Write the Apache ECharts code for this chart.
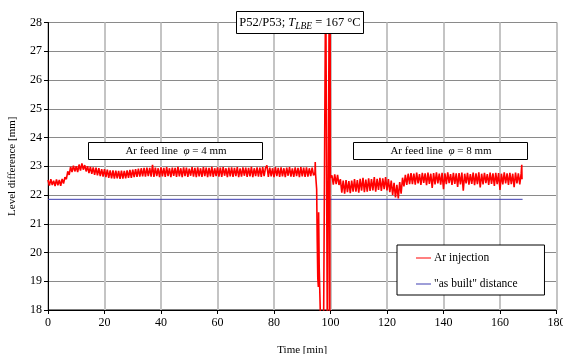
<!DOCTYPE html>
<html><head><meta charset="utf-8">
<script src="https://cdn.jsdelivr.net/npm/echarts@6/dist/echarts.min.js"></script>
<style>html,body{margin:0;padding:0;background:#fff}#c{width:563px;height:354px}</style>
</head><body><div id="c"></div>
<script>
// axis ticks
const xTicks = [0, 20, 40, 60, 80, 100, 120, 140, 160, 180];
const yTicks = [18, 19, 20, 21, 22, 23, 24, 25, 26, 27, 28];
// Ar injection, phase 1 (4 mm feed line): samples every 0.5 min from t = 0
const seg1Start = 0, seg1Step = 0.5;
const seg1Values = [
 22.52,22.33,22.55,22.35,22.5,22.31,22.54,22.34,22.52,22.32,22.56,
 22.4,22.62,22.55,22.82,22.7,
 22.98,
 22.8,23.02,22.82,23.0,22.8,23.06,22.85,23.1,22.88,23.04,22.82,23.0,
 22.76,22.98,22.74,22.96,22.7,22.95,22.68,22.93,22.66,22.9,22.64,22.9,22.62,22.88,22.6,22.86,
 22.58,22.86,22.57,22.85,22.58,22.84,22.56,22.85,22.57,22.84,22.58,22.86,22.6,22.87,22.6,22.88,
 22.62,22.9,22.63,22.92,22.64,22.93,22.65,22.94,22.64,22.95,22.66,22.94,
 22.64,23.05,22.63,22.95,22.66,22.93,22.62,22.96,22.65,22.94,
 22.63,22.97,22.66,22.93,22.62,22.95,22.67,22.94,22.63,22.98,
 22.65,22.93,22.62,22.96,22.66,22.95,22.63,22.92,22.67,22.97,
 22.64,22.94,22.62,22.96,22.65,22.93,22.63,22.97,22.66,22.95,
 22.62,22.94,22.65,22.98,22.63,22.93,22.66,22.96,22.64,22.95,
 22.63,22.97,22.67,22.93,22.62,22.95,22.65,22.96,22.63,22.94,
 22.66,22.97,22.62,22.93,22.64,22.96,22.67,22.95,22.63,22.94,
 22.65,22.98,22.62,22.93,22.66,22.96,22.64,22.95,22.63,22.97,
 22.66,22.94,23.03,22.63,22.95,22.65,22.93,22.62,22.97,22.66,
 22.94,22.63,22.96,22.65,22.93,22.62,22.95,22.67,22.97,22.64,
 22.93,22.63,22.96,22.66,22.94,22.62,22.97,22.65,22.95,22.63,
 22.96,22.64,22.93,22.66,22.95,22.68
];
// switch-over transient (time, level)
const transientTimes  = [94.5, 94.6, 94.7, 94.9, 95.1, 95.3, 95.5, 95.7, 95.8, 96.0, 96.2, 96.5, 97.5, 98.2, 98.3, 98.8, 98.9, 99.5, 99.6, 99.75, 99.85, 99.95];
const transientLevels = [22.78, 23.15, 22.75, 22.8, 22.2, 20.4, 19.1, 18.8, 21.4, 19.5, 18.7, 17.5, 16.5, 16.5, 30, 30, 16.5, 16.5, 30, 16.5, 30, 22.6];
// phase 2 (8 mm feed line): samples every 0.5 min from t = 100.5
const seg2Start = 100.5, seg2Step = 0.5;
const seg2Values = [
 22.68,22.36,22.72,22.38,22.7,22.35,
 22.55,22.08,22.5,22.05,22.52,22.1,22.48,22.06,22.5,22.12,
 22.55,22.12,22.52,22.08,22.56,22.15,22.6,22.1,22.54,22.12,22.58,22.14,22.55,22.16,22.62,22.12,22.56,22.18,22.6,22.14,22.58,22.2,22.62,22.16,
 22.55,22.1,22.5,22.0,22.42,21.92,22.35,21.88,22.45,22.05,
 22.6,22.3,22.7,22.35,22.74,22.38,
 22.76,22.38,22.74,22.36,22.78,22.4,22.73,22.35,22.77,22.42,
 22.75,22.34,22.78,22.39,22.74,22.25,22.76,22.37,22.79,22.4,
 22.74,22.36,22.77,22.2,22.75,22.38,22.79,22.41,22.73,22.35,
 22.77,22.39,22.75,22.28,22.76,22.37,22.78,22.15,22.74,22.4,
 22.77,22.36,22.73,22.39,22.78,22.34,22.75,22.38,22.79,22.26,
 22.74,22.37,22.77,22.41,22.73,22.35,22.78,22.39,22.75,22.32,
 22.77,22.38,22.76,22.18,22.74,22.37,22.79,22.4,22.75,22.35,
 22.77,22.38,22.74,22.27,22.78,22.4,22.75,22.37,22.76
];
const endTimes  = [167.7, 167.8];
const endLevels = [23.05, 22.55];
// "as built" distance
const builtTimes  = [0, 168];
const builtLevels = [21.85, 21.85];

const arData = [];
seg1Values.forEach((v, i) => arData.push([seg1Start + i * seg1Step, v]));
transientTimes.forEach((t, i) => arData.push([t, transientLevels[i]]));
seg2Values.forEach((v, i) => arData.push([seg2Start + i * seg2Step, v]));
endTimes.forEach((t, i) => arData.push([t, endLevels[i]]));
const builtData = builtTimes.map((t, i) => [t, builtLevels[i]]);

const FONT = 'Liberation Serif';

// title pieces laid out with measured widths
const mctx = document.createElement('canvas').getContext('2d');
function tw(txt, size, italic) { mctx.font = (italic ? 'italic ' : '') + size + 'px "' + FONT + '"'; return mctx.measureText(txt).width; }
const titleParts = [
  {t: 'P52/P53; ', size: 12.5, italic: false, cy: 22.5},
  {t: 'T', size: 12.5, italic: true, cy: 22.5},
  {t: 'LBE', size: 9.5, italic: true, cy: 26},
  {t: ' = 167 °C', size: 12.5, italic: false, cy: 22.5}
];
const titleW = titleParts.reduce((s, p) => s + tw(p.t, p.size, p.italic), 0);
let tx = 300 - titleW / 2;
const titleTexts = titleParts.map(p => {
  const el = {type: 'text', z: 101, x: tx, y: p.cy, style: {text: p.t, fontFamily: FONT, fontSize: p.size,
    fontStyle: p.italic ? 'italic' : 'normal', fill: '#000', align: 'left', verticalAlign: 'middle'}};
  tx += tw(p.t, p.size, p.italic);
  return el;
});

const chart = echarts.init(document.getElementById('c'), null, {renderer: 'canvas'});
chart.setOption({
  animation: false,
  backgroundColor: '#fff',
  textStyle: {fontFamily: FONT, color: '#000'},
  grid: {left: 48, right: 6.5, top: 22.5, bottom: 44, outerBoundsMode: 'none', containLabel: false,
         show: true, borderColor: '#000', borderWidth: 1, backgroundColor: 'transparent'},
  xAxis: {
    type: 'value', min: xTicks[0], max: xTicks[xTicks.length - 1], interval: 20,
    name: 'Time [min]', nameLocation: 'middle', nameGap: 35,
    nameTextStyle: {fontFamily: FONT, fontSize: 11, color: '#000'},
    axisLine: {lineStyle: {color: '#000', width: 1}},
    axisTick: {show: true, length: 4, lineStyle: {color: '#000'}},
    axisLabel: {fontFamily: FONT, fontSize: 12, color: '#000', margin: 7},
    splitLine: {show: true, lineStyle: {color: '#c4c4c4', width: 2}}
  },
  yAxis: {
    type: 'value', min: yTicks[0], max: yTicks[yTicks.length - 1], interval: 1,
    name: 'Level difference [mm]', nameLocation: 'middle', nameGap: 30,
    nameTextStyle: {fontFamily: FONT, fontSize: 11, color: '#000'},
    axisLine: {show: true, lineStyle: {color: '#000', width: 1}},
    axisTick: {show: true, length: 4, lineStyle: {color: '#000'}},
    axisLabel: {fontFamily: FONT, fontSize: 12, color: '#000', margin: 6},
    splitLine: {show: true, lineStyle: {color: '#8a8a8a', width: 1}}
  },
  legend: {
    orient: 'vertical', left: 397, top: 245,
    data: ['Ar injection', '"as built" distance'],
    backgroundColor: '#fff', borderColor: '#000', borderWidth: 1,
    padding: [5, 27, 3, 19], itemGap: 10, itemWidth: 15, itemHeight: 14,
    icon: 'path://M0,6.5 L15,6.5 L15,7.5 L0,7.5 Z',
    textStyle: {fontFamily: FONT, fontSize: 11.5, color: '#000', padding: [0, 0, 0, -2], lineHeight: 16}
  },
  series: [
    {name: 'Ar injection', type: 'line', data: arData, showSymbol: false, symbol: 'none',
     lineStyle: {color: '#ff0000', width: 1.6}, itemStyle: {color: '#ff0000'}, clip: true, z: 3},
    {name: '"as built" distance', type: 'line', data: builtData, showSymbol: false, symbol: 'none',
     lineStyle: {color: '#3c3cb0', width: 1}, itemStyle: {color: '#3c3cb0'}, clip: true, z: 2}
  ],
  graphic: [
    {type: 'rect', z: 100, shape: {x: 88.5, y: 142.5, width: 174, height: 17}, style: {fill: '#fff', stroke: '#000', lineWidth: 1}},
    {type: 'text', z: 101, x: 176, y: 151, style: {text: '{n|Ar feed line  }{i|φ}{n| = 4 mm}', align: 'center', verticalAlign: 'middle',
      rich: {n: {fontFamily: FONT, fontSize: 11, fill: '#000'}, i: {fontFamily: FONT, fontSize: 11, fontStyle: 'italic', fill: '#000'}}}},
    {type: 'rect', z: 100, shape: {x: 353.5, y: 142.5, width: 174, height: 17}, style: {fill: '#fff', stroke: '#000', lineWidth: 1}},
    {type: 'text', z: 101, x: 441, y: 151, style: {text: '{n|Ar feed line  }{i|φ}{n| = 8 mm}', align: 'center', verticalAlign: 'middle',
      rich: {n: {fontFamily: FONT, fontSize: 11, fill: '#000'}, i: {fontFamily: FONT, fontSize: 11, fontStyle: 'italic', fill: '#000'}}}},
    {type: 'rect', z: 100, shape: {x: 236.5, y: 11.5, width: 127, height: 22}, style: {fill: '#fff', stroke: '#000', lineWidth: 1}}
  ].concat(titleTexts)
});
</script></body></html>
